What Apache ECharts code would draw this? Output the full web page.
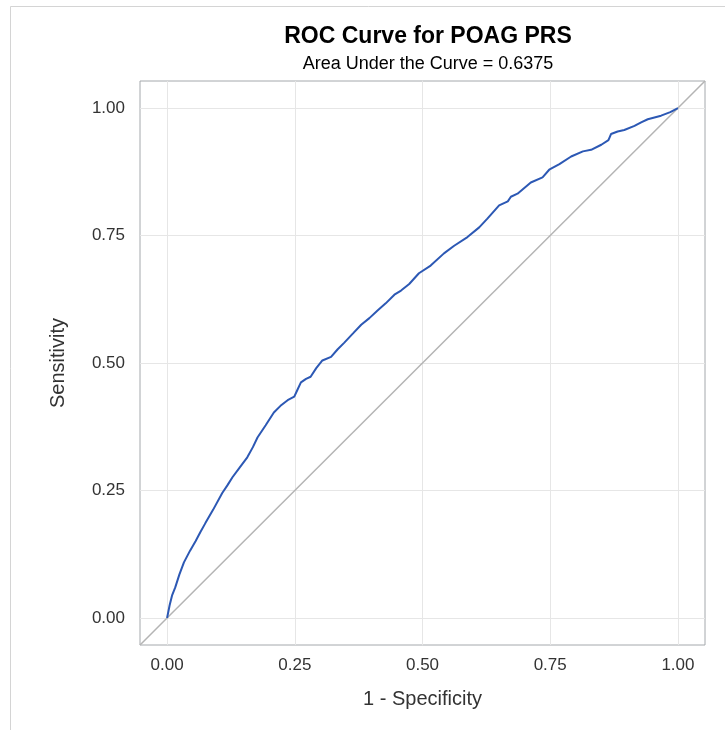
<!DOCTYPE html>
<html>
<head>
<meta charset="utf-8">
<script src="https://cdn.jsdelivr.net/npm/echarts@6/dist/echarts.min.js"></script>
<style>
html,body{margin:0;padding:0;background:#fff;}
#chart{width:725px;height:730px;}
</style>
</head>
<body>
<div id="chart"></div>
<script>
// ---- data ----
const titleText = 'ROC Curve for POAG PRS';
const subtitleText = 'Area Under the Curve = 0.6375';
const xName = '1 - Specificity';
const yName = 'Sensitivity';
const tickValues = [0, 0.25, 0.5, 0.75, 1.0];
const axisMin = -0.053;
const axisMax = 1.053;
const fpr = [0,0.005,0.010,0.016,0.024,0.033,0.045,0.056,0.065,0.075,0.090,0.108,0.118,0.128,0.142,0.157,0.168,0.177,0.193,0.209,0.222,0.236,0.249,0.255,0.262,0.272,0.281,0.292,0.304,0.321,0.334,0.347,0.364,0.380,0.396,0.412,0.428,0.445,0.458,0.474,0.493,0.516,0.542,0.562,0.588,0.611,0.627,0.650,0.667,0.673,0.686,0.712,0.735,0.748,0.768,0.791,0.814,0.830,0.850,0.864,0.869,0.882,0.895,0.915,0.928,0.941,0.967,0.985,1];
const tpr = [0,0.025,0.045,0.060,0.085,0.109,0.132,0.151,0.168,0.186,0.212,0.245,0.260,0.276,0.295,0.315,0.335,0.354,0.378,0.403,0.416,0.427,0.434,0.447,0.462,0.469,0.473,0.490,0.505,0.512,0.527,0.540,0.558,0.575,0.588,0.603,0.617,0.634,0.642,0.655,0.676,0.691,0.715,0.730,0.747,0.766,0.783,0.809,0.817,0.826,0.832,0.854,0.864,0.879,0.890,0.905,0.915,0.918,0.928,0.937,0.949,0.954,0.957,0.965,0.972,0.978,0.985,0.992,1];
const diagonal = [axisMin, axisMax];

// ---- chart ----
const font = '"Liberation Sans", Arial, sans-serif';
const chart = echarts.init(document.getElementById('chart'), null, {renderer: 'canvas'});
const gridLines = tickValues.map(v => ({xAxis: v})).concat(tickValues.map(v => ({yAxis: v})));
const option = {
  backgroundColor: '#fff',
  animation: false,
  graphic: [{
    type: 'rect', silent: true, z: -1,
    shape: {x: 10.5, y: 6.5, width: 800, height: 800},
    style: {fill: 'none', stroke: '#D4D4D4', lineWidth: 1}
  }],
  title: [{
    text: titleText, left: 423, top: 20, textAlign: 'center',
    textStyle: {fontFamily: font, fontWeight: 'bold', fontSize: 23, color: '#000'}
  }, {
    text: subtitleText, left: 423, top: 50, textAlign: 'center',
    textStyle: {fontFamily: font, fontWeight: 'normal', fontSize: 18, color: '#000'}
  }],
  grid: {left: 140, right: 20, top: 81, bottom: 85, show: true, borderColor: '#A4A8AC', borderWidth: 1, backgroundColor: 'transparent'},
  xAxis: {
    type: 'value', min: axisMin, max: axisMax,
    name: xName, nameLocation: 'middle', nameGap: 44,
    nameTextStyle: {fontFamily: font, fontSize: 20, color: '#333'},
    axisLine: {show: false},
    axisTick: {show: true, inside: false, length: 8, customValues: tickValues, lineStyle: {color: '#A4A8AC'}},
    axisLabel: {customValues: tickValues, margin: 12, fontFamily: font, fontSize: 17, color: '#333', formatter: v => v.toFixed(2)},
    splitLine: {show: false}
  },
  yAxis: {
    type: 'value', min: axisMin, max: axisMax,
    name: yName, nameLocation: 'middle', nameGap: 72, nameRotate: 90,
    nameTextStyle: {fontFamily: font, fontSize: 20, color: '#333'},
    axisLine: {show: false},
    axisTick: {show: true, inside: false, length: 8, customValues: tickValues, lineStyle: {color: '#A4A8AC'}},
    axisLabel: {customValues: tickValues, margin: 15, fontFamily: font, fontSize: 17, color: '#333', formatter: v => v.toFixed(2)},
    splitLine: {show: false}
  },
  series: [{
    type: 'line', data: [], z: 1, silent: true,
    markLine: {z: 1, silent: true, symbol: 'none', animation: false, label: {show: false},
      lineStyle: {color: '#E6E6E6', width: 1, type: 'solid'}, data: gridLines}
  }, {
    type: 'line', z: 2, silent: true, showSymbol: false,
    data: diagonal.map(v => [v, v]),
    lineStyle: {color: '#B4B4B4', width: 1.5}
  }, {
    type: 'line', z: 3, silent: true, showSymbol: false,
    data: fpr.map((x, i) => [x, tpr[i]]),
    lineStyle: {color: '#2C58B4', width: 2}
  }]
};
chart.setOption(option);
</script>
</body>
</html>
